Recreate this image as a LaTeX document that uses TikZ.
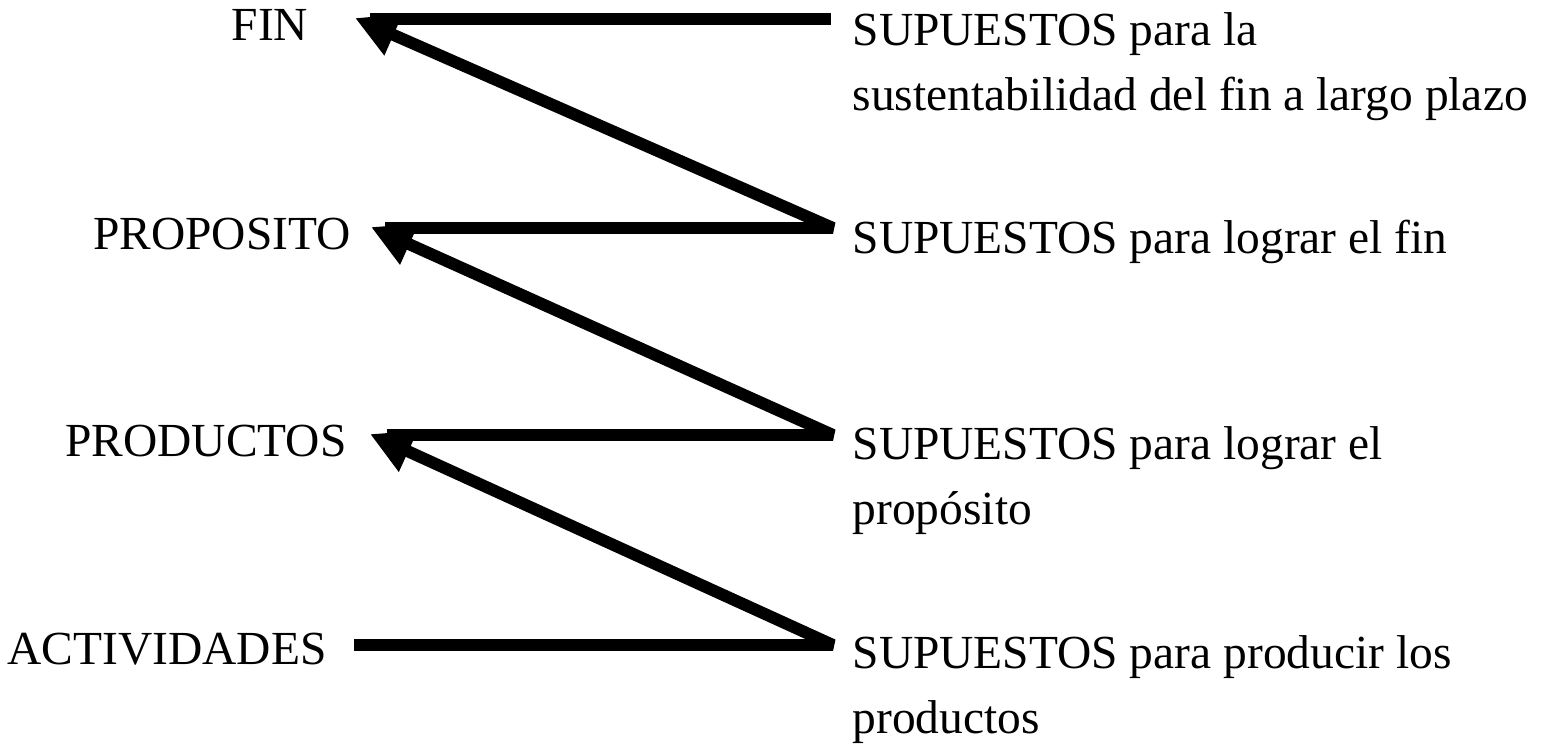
\documentclass[tikz,border=0pt]{standalone}
\usepackage{fontspec}
\setmainfont{Liberation Serif}
\usetikzlibrary{arrows.meta}

\begin{document}
\begin{tikzpicture}
        \tikzset{lbl/.style={inner sep=0pt,font=\fontsize{13.5}{18.4}\selectfont}}
        \tikzset{zz/.style={line width=3.4pt,line join=bevel}}
        \tikzset{tip/.style={-{Triangle[length=0.42cm,width=0.42cm]}}}
        \useasboundingbox (0,0) rectangle (15.57,7.44);

        % rows: fin 7.25, proposito 5.16, productos 3.09, actividades 0.99
        \coordinate (finT) at (3.55, 7.26);
        \coordinate (finL) at (3.70, 7.25);
        \coordinate (finR) at (8.31, 7.25);
        \coordinate (propT) at (3.71, 5.17);
        \coordinate (propL) at (3.85, 5.16);
        \coordinate (propR) at (8.33, 5.16);
        \coordinate (prodT) at (3.70, 3.10);
        \coordinate (prodL) at (3.87, 3.09);
        \coordinate (prodR) at (8.33, 3.09);
        \coordinate (actL) at (3.54, 0.99);
        \coordinate (actR) at (8.33, 0.99);

        \node[lbl,anchor=north] (fin) at (2.70, 7.35) {FIN};
        \node[lbl,anchor=north] (prop) at (2.22, 5.27) {PROPOSITO};
        \node[lbl,anchor=north] (prod) at (2.06, 3.20) {PRODUCTOS};
        \node[lbl,anchor=north] (act) at (1.67, 1.12) {ACTIVIDADES};

        \node[lbl,anchor=north west,align=left] (sfin) at (8.52, 7.32)
            {SUPUESTOS para la\\sustentabilidad del fin a largo plazo};
        \node[lbl,anchor=north west,align=left] (sprop) at (8.52, 5.25)
            {SUPUESTOS para lograr el fin};
        \node[lbl,anchor=north west,align=left] (sprod) at (8.52, 3.18)
            {SUPUESTOS para lograr el\\prop\'osito};
        \node[lbl,anchor=north west,align=left] (sact) at (8.52, 1.09)
            {SUPUESTOS para producir los\\productos};

        \draw[zz] (finL) -- (finR);
        \draw[zz,tip] (propL) -- (propR) -- (finT);
        \draw[zz,tip] (prodL) -- (prodR) -- (propT);
        \draw[zz,tip] (actL) -- (actR) -- (prodT);
    \end{tikzpicture}
\end{document}
